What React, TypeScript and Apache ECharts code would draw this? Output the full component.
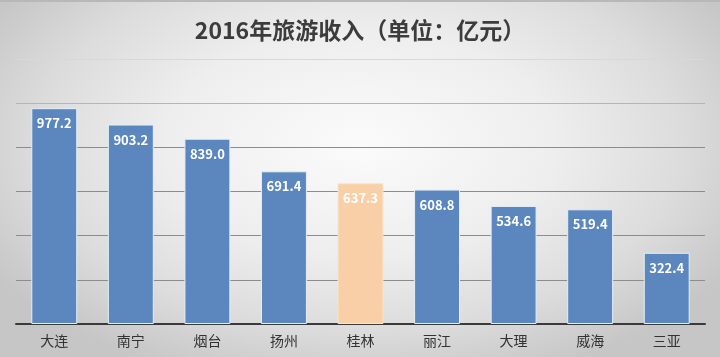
import React, { useEffect, useRef } from "react";
import * as echarts from "echarts";

const titleText = "2016年旅游收入（单位：亿元）";
const cities = ["大连", "南宁", "烟台", "扬州", "桂林", "丽江", "大理", "威海", "三亚"];
const revenue = [977.2, 903.2, 839.0, 691.4, 637.3, 608.8, 534.6, 519.4, 322.4];
const highlightCity = "桂林";

export default function App() {
  const ref = useRef<HTMLDivElement>(null);
  useEffect(() => {
    if (!ref.current) return;
    const chart = echarts.init(ref.current, null, { renderer: "svg" });
    const blue = "#5b87be";
    const peach = "#f8cfa7";
    chart.setOption({
      animation: false,
      title: {
        text: titleText,
        left: "center",
        top: 10,
        textStyle: {
          fontFamily: "Noto Sans CJK SC",
          fontSize: 23,
          fontWeight: "bold",
          color: "#3c3c3c",
        },
      },
      grid: { left: 16, right: 15, top: 57, bottom: 33, containLabel: false },
      xAxis: {
        type: "category",
        data: cities,
        axisLine: { lineStyle: { color: "#3a3a3a", width: 2 } },
        axisTick: { show: false },
        axisLabel: {
          fontFamily: "Noto Sans CJK SC",
          fontSize: 14,
          color: "#333",
          margin: 9,
        },
      },
      yAxis: {
        type: "value",
        min: 0,
        max: 1200,
        interval: 200,
        axisLabel: { show: false },
        axisLine: { show: false },
        axisTick: { show: false },
        splitLine: {
          lineStyle: {
            color: ["#8c8c8c", "#8c8c8c", "#8c8c8c", "#8c8c8c", "#8c8c8c", "#b5b5b5", "#d8d8d8"],
            width: 1,
          },
        },
      },
      series: [
        {
          type: "bar",
          barWidth: "60%",
          data: revenue.map((v, i) => ({
            value: v,
            itemStyle: {
              color: cities[i] === highlightCity ? peach : blue,
              borderColor: cities[i] === highlightCity ? "#fbe3cc" : "#e4eef8",
              borderWidth: 1,
            },
          })),
          label: {
            show: true,
            position: "insideTop",
            distance: 8,
            formatter: (p: any) => Number(p.value).toFixed(1),
            color: "#ffffff",
            fontFamily: "Noto Sans CJK SC",
            fontWeight: "bold",
            fontSize: 13,
          },
        },
      ],
    });
    return () => chart.dispose();
  }, []);
  return (
    <div
      ref={ref}
      style={{
        position: "fixed",
        left: 0,
        top: 0,
        width: 720,
        height: 357,
        background:
          "radial-gradient(ellipse 60% 70% at 50% 40%, #fbfbfb 0%, #eeeeee 45%, #dcdcdc 75%, #c6c6c6 100%)",
        borderTop: "2px solid #b8b8b8",
        boxSizing: "border-box",
      }}
    />
  );
}
